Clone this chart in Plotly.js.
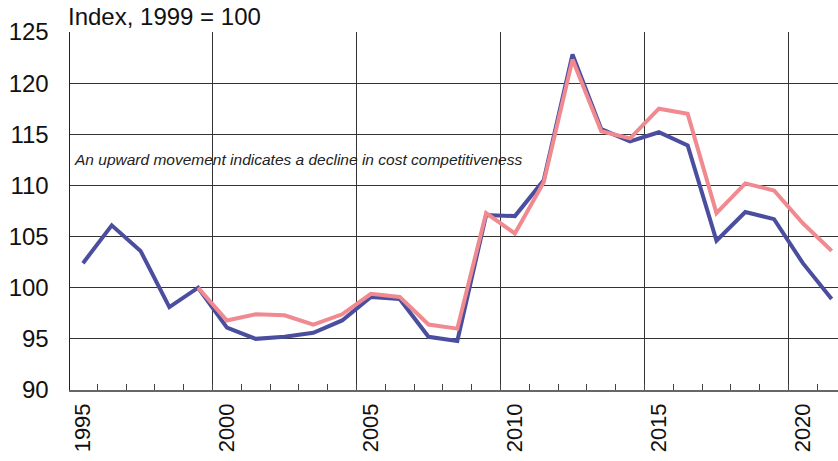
<!DOCTYPE html>
<html>
<head>
<meta charset="utf-8">
<script src="https://cdn.plot.ly/plotly-3.0.1.min.js"></script>
<style>html,body{margin:0;padding:0;background:#fff;}#chart{width:838px;height:461px;}</style>
</head>
<body>
<div id="chart"></div>
<script>
const years = [1995,1996,1997,1998,1999,2000,2001,2002,2003,2004,2005,2006,2007,2008,2009,2010,2011,2012,2013,2014,2015,2016,2017,2018,2019,2020,2021];
const seriesBlue = [102.4,106.1,103.6,98.1,100.0,96.1,95.0,95.2,95.6,96.8,99.1,98.9,95.2,94.8,107.1,107.0,110.5,122.8,115.5,114.3,115.2,113.9,104.6,107.4,106.7,102.4,98.9];
const pinkYears = [1999,2000,2001,2002,2003,2004,2005,2006,2007,2008,2009,2010,2011,2012,2013,2014,2015,2016,2017,2018,2019,2020,2021];
const seriesPink = [100.0,96.8,97.4,97.3,96.4,97.4,99.4,99.1,96.4,96.0,107.3,105.3,110.3,122.3,115.3,114.6,117.5,117.0,107.3,110.2,109.5,106.3,103.6];
const yTicks = [90,95,100,105,110,115,120,125];
const xLabelTicks = [1995,2000,2005,2010,2015,2020];
const xGridTicks = [1999.5,2004.5,2009.5,2014.5,2019.5];
const titleText = 'Index, 1999 = 100';
const noteText = 'An upward movement indicates a decline in cost competitiveness';

const FONT = 'Liberation Sans, Arial, sans-serif';
const xRange = [1994.55, 2021.22];

const traces = [
  {x: years, y: seriesBlue, xaxis: 'x2', yaxis: 'y', mode: 'lines', opacity: 0, hoverinfo: 'skip', showlegend: false, line: {width: 1}},
  {x: years, y: seriesBlue, xaxis: 'x3', yaxis: 'y', mode: 'lines', opacity: 0, hoverinfo: 'skip', showlegend: false, line: {width: 1}},
  {x: years, y: seriesBlue, mode: 'lines', line: {color: '#4b4e9f', width: 4}, showlegend: false},
  {x: pinkYears, y: seriesPink, mode: 'lines', line: {color: '#f08a90', width: 4}, showlegend: false}
];

const layout = {
  width: 838, height: 461,
  margin: {l: 70, r: 0, t: 32, b: 71},
  paper_bgcolor: '#fff', plot_bgcolor: '#fff',
  showlegend: false,
  font: {family: FONT, color: '#111'},
  title: {text: titleText, x: 68/838, xanchor: 'left', xref: 'container', y: 1 - 17/461, yref: 'container', yanchor: 'middle', font: {size: 24, family: FONT, color: '#111'}},
  xaxis: {
    range: xRange, tickmode: 'linear', tick0: 1994.5, dtick: 1, showticklabels: false,
    showgrid: false, zeroline: false,
    ticks: 'inside', ticklen: 6, tickcolor: '#444', tickwidth: 1,
    showline: true, linecolor: '#666', linewidth: 2
  },
  xaxis2: {
    range: xRange, overlaying: 'x', side: 'bottom', anchor: 'y',
    tickmode: 'array', tickvals: xLabelTicks, ticktext: xLabelTicks.map(String),
    tickangle: -90, tickfont: {size: 22, family: FONT, color: '#111'},
    showgrid: false, zeroline: false, ticks: '', ticklabelstandoff: 8
  },
  xaxis3: {
    range: xRange, overlaying: 'x', side: 'bottom', anchor: 'y',
    tickmode: 'array', tickvals: xGridTicks, showticklabels: false,
    showgrid: true, gridcolor: '#333', gridwidth: 1, zeroline: false, ticks: ''
  },
  yaxis: {
    range: [90, 125], tickmode: 'array', tickvals: yTicks, ticktext: yTicks.map(String),
    tickfont: {size: 24, family: FONT, color: '#111'},
    showgrid: true, gridcolor: '#333', gridwidth: 1, zeroline: false,
    ticks: '', ticklabelstandoff: 15,
    showline: true, linecolor: '#222', linewidth: 1.5
  },
  annotations: [{
    text: '<i>' + noteText + '</i>', xref: 'paper', x: 0, xshift: 2, xanchor: 'left',
    yref: 'y', y: 112.5, yanchor: 'middle', showarrow: false,
    font: {size: 15.5, family: FONT, color: '#222'}
  }]
};

Plotly.newPlot('chart', traces, layout, {displayModeBar: false, staticPlot: true});
</script>
</body>
</html>
